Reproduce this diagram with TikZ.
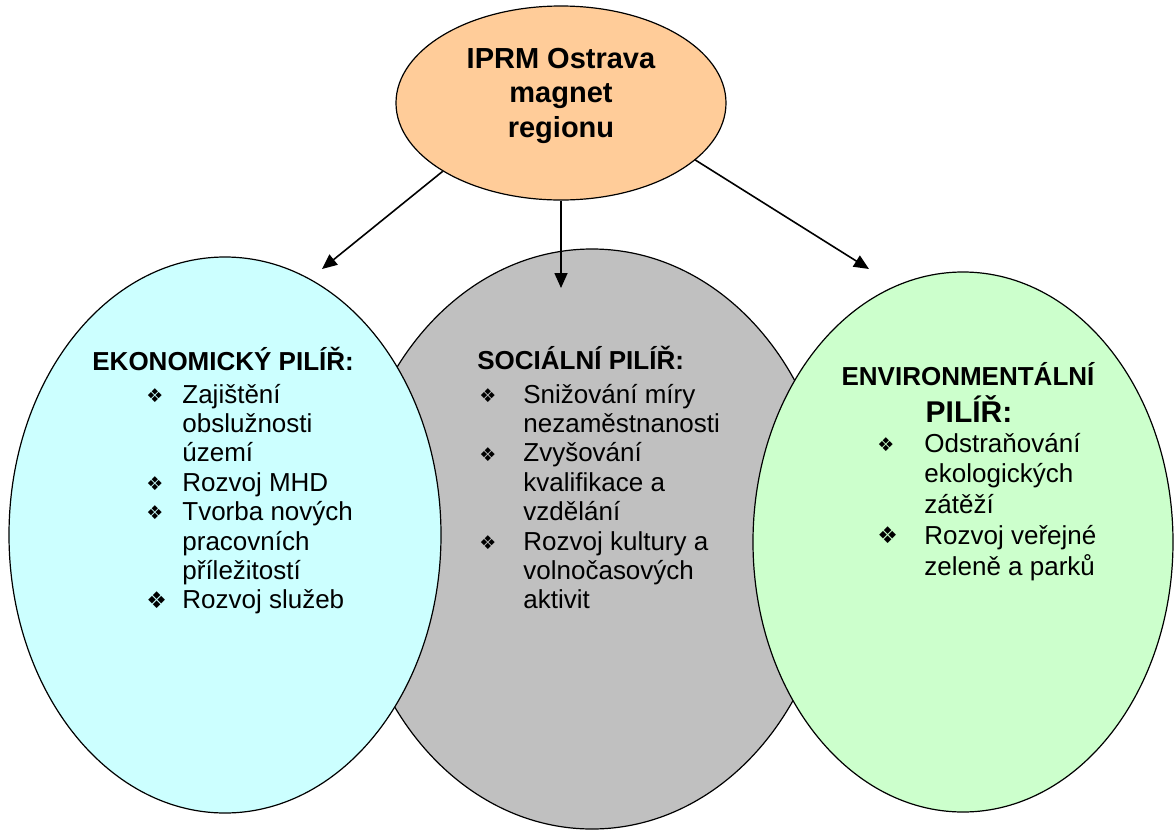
\documentclass[tikz,border=0pt]{standalone}
\usepackage{fontspec}
\setmainfont{Liberation Sans}
\newfontfamily\dejavu{DejaVu Sans}
\usetikzlibrary{shapes.geometric,arrows.meta}
\definecolor{peach}{HTML}{FFCC99}
\definecolor{cyanfill}{HTML}{CCFFFF}
\definecolor{grayfill}{HTML}{C0C0C0}
\definecolor{greenfill}{HTML}{CCFFCC}
\newcommand{\bul}[1][9.5pt]{\makebox[0pt][l]{\raisebox{0.4pt}{\dejavu\fontsize{#1}{#1}\selectfont ❖}}}
\begin{document}
\begin{tikzpicture}[x=0.5pt,y=-0.5pt]
    \tikzset{pilir/.style={ellipse, draw=black, line width=0.6pt, inner sep=0pt}}
    \tikzset{arr/.style={-{Triangle[length=7.5pt,width=6.5pt]}, line width=0.8pt}}
    \tikzset{txt/.style={inner sep=0pt, font=\fontsize{13}{14.7}\selectfont}}
    \tikzset{head/.style={txt, font=\bfseries\fontsize{13}{14.7}\selectfont}}
    \useasboundingbox (0,0) rectangle (1174,836);
    % pilire
    \node[pilir, fill=grayfill, minimum width=242pt, minimum height=290pt] (soc) at (592,539) {};
    \node[pilir, fill=cyanfill, minimum width=216pt, minimum height=278pt] (eko) at (225,535) {};
    \node[pilir, fill=greenfill, minimum width=210pt, minimum height=270pt] (env) at (963,542) {};
    % vrchol
    \node[pilir, fill=peach, minimum width=165pt, minimum height=97pt] (iprm) at (561,103) {};
    \node[txt, anchor=base, font=\bfseries\fontsize{14.5}{17.25}\selectfont] (iprmtxt) at (561,68)
        {\begin{tabular}[t]{@{}c@{}}IPRM Ostrava\\magnet\\regionu\end{tabular}};
    % ekonomicky
    \node[head, anchor=base west] (ekohead) at (92,370) {EKONOMICKÝ PILÍŘ:};
    \node[txt, anchor=base west] (ekolist) at (146,403) {\begin{tabular}[t]{@{}p{18pt}@{}l@{}}
        \bul & Zajištění\\
        & obslužnosti\\
        & území\\
        \bul & Rozvoj MHD\\
        \bul & Tvorba nových\\
        & pracovních\\
        & příležitostí\\
        \bul[11.5pt] & Rozvoj služeb
    \end{tabular}};
    % socialni
    \node[head, anchor=base west] (sochead) at (477,369) {SOCIÁLNÍ PILÍŘ:};
    \node[txt, anchor=base west] (soclist) at (479,403) {\begin{tabular}[t]{@{}p{22pt}@{}l@{}}
        \bul & Snižování míry\\
        & nezaměstnanosti\\
        \bul & Zvyšování\\
        & kvalifikace a\\
        & vzdělání\\
        \bul & Rozvoj kultury a\\
        & volnočasových\\
        & aktivit
    \end{tabular}};
    % environmentalni
    \node[head, anchor=base] (envhead) at (968,385) {ENVIRONMENTÁLNÍ};
    \node[head, anchor=base, font=\bfseries\fontsize{15}{18}\selectfont] (envpilir) at (969,422) {PILÍŘ:};
    \node[txt, anchor=base west, font=\fontsize{13}{15.4}\selectfont] (envlist) at (877,452) {\begin{tabular}[t]{@{}p{23.5pt}@{}l@{}}
        \bul & Odstraňování\\
        & ekologických\\
        & zátěží\\
        \bul[11.5pt] & Rozvoj veřejné\\
        & zeleně a parků
    \end{tabular}};
    % sipky
    \coordinate (ekoin) at (322,269);
    \coordinate (socin) at (561,288);
    \coordinate (envin) at (869,269);
    \draw[arr] (iprm.210) -- (ekoin);
    \draw[arr] (iprm.south) -- (socin);
    \draw[arr] (iprm.-23) -- (envin);
\end{tikzpicture}
\end{document}
